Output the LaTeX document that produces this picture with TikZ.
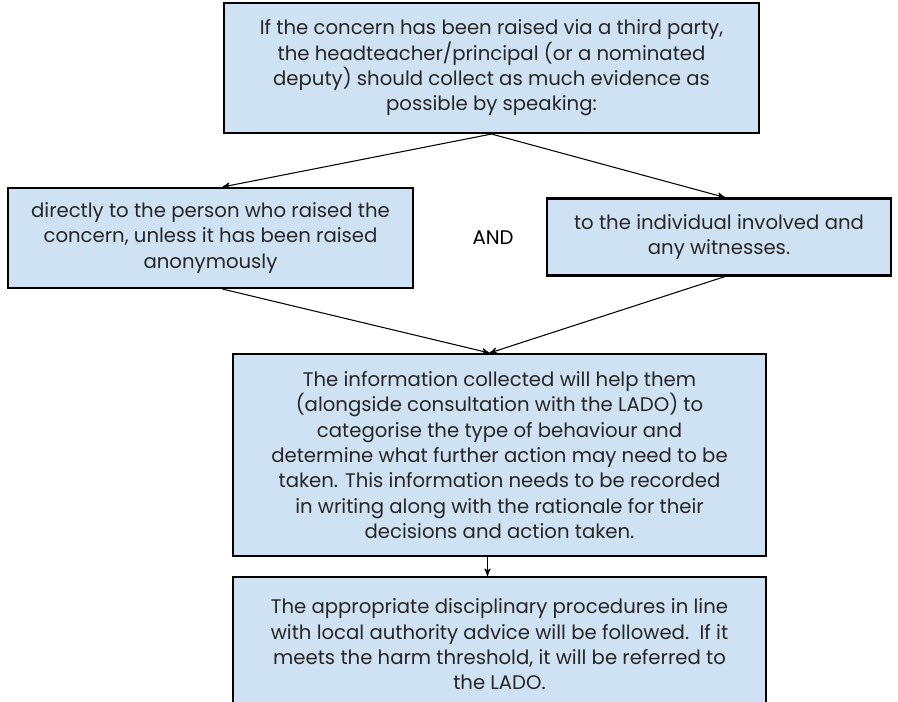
\documentclass[tikz,border=0pt]{standalone}
\usepackage{fontspec}
\setmainfont{Poppins}
\usetikzlibrary{%
  arrows,%
  positioning,% wg. " of "
  calc
}
\definecolor{boxblue}{HTML}{CFE2F3}

\begin{document}
\begin{tikzpicture}
  [
  x=0.02cm, y=-0.02cm,
  font=\fontsize{11.2}{14.4}\selectfont, draw=black, >=stealth', line width=0.6pt,
  stage/.style={rectangle, draw=black, fill=boxblue, line width=1.2pt, align=center, text=black!85, inner sep=0pt},
  link/.style={->, line width=0.6pt}
  ]

\useasboundingbox (0,0) rectangle (898,702);

\node[stage, minimum width=10.7cm, minimum height=2.6cm] (concern) at (491.5,68)
  {If the concern has been raised via a third party,\\the headteacher/principal (or a nominated\\deputy) should collect as much evidence as\\possible by speaking:};

\node[stage, minimum width=8.1cm, minimum height=2.0cm] (reporter) at (210.5,238)
  {directly to the person who raised the\\concern, unless it has been raised\\anonymously};
\node[stage, minimum width=6.88cm, minimum height=1.54cm] (witness) at (719,237)
  {to the individual involved and\\any witnesses.};
\node (and) at (493,238) {AND};

\node[stage, minimum width=10.66cm, minimum height=4.04cm] (record) at (499.5,455)
  {The information collected will help them\\(alongside consultation with the LADO) to\\categorise the type of behaviour and\\determine what further action may need to be\\taken. This information needs to be recorded\\in writing along with the rationale for their\\decisions and action taken.};
\node[stage, minimum width=10.66cm, minimum height=2.7cm] (outcome) at (499.5,644.5)
  {The appropriate disciplinary procedures in line\\with local authority advice will be followed.\ \ If it\\meets the harm threshold, it will be referred to\\the LADO.};

\draw[link] (concern.south) -- ($(reporter.north)+(12,0)$);
\draw[link] (concern.south) -- ($(witness.north)+(6,0)$);
\draw[link] ($(reporter.south)+(12,0)$) -- ($(record.north)+(-10,0)$);
\draw[link] ($(witness.south)+(6,0)$) -- ($(record.north)+(-10,0)$);
\draw[link] ($(record.south)+(-12,0)$) -- ($(outcome.north)+(-12,0)$);

\end{tikzpicture}
\end{document}
